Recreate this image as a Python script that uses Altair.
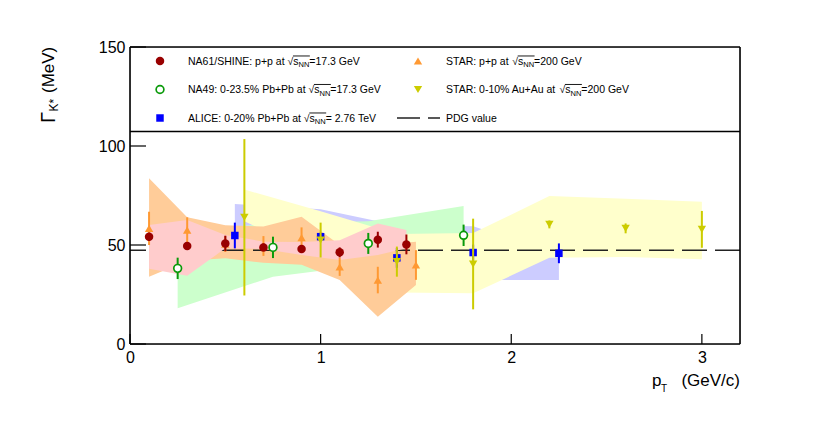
import altair as alt
import pandas as pd

# ---------------- data ----------------
# NA61/SHINE p+p 17.3 GeV
na61_x = [0.1, 0.3, 0.5, 0.7, 0.9, 1.1, 1.3, 1.45]
na61_y = [54.2, 49.5, 50.8, 48.8, 48.0, 46.3, 52.7, 50.3]
na61_err = [2.0, 2.0, 3.9, 2.0, 2.0, 2.5, 4.0, 5.0]
na61_sys_hi = [60.1, 62.6, 55.0, 51.7, 51.5, 52.4, 60.9, 57.6]
na61_sys_lo = [38.0, 34.5, 48.3, 48.0, 45.0, 42.4, 45.0, 48.3]

# STAR p+p 200 GeV
starpp_x = [0.1, 0.3, 0.5, 0.7, 0.9, 1.1, 1.3, 1.5]
starpp_y = [58.4, 57.5, 50.5, 49.5, 53.7, 39.0, 32.3, 39.9]
starpp_err = [8.4, 6.5, 4.0, 5.0, 5.2, 4.6, 6.7, 7.5]
starpp_sys_hi = [83.7, 64.0, 60.0, 59.3, 64.3, 50.0, 50.0, 51.7]
starpp_sys_lo = [34.0, 42.0, 43.3, 41.0, 40.0, 32.3, 13.8, 29.8]

# NA49 0-23.5% Pb+Pb 17.3 GeV
na49_x = [0.25, 0.75, 1.25, 1.75]
na49_y = [38.2, 48.8, 50.8, 54.9]
na49_err = [5.4, 5.4, 5.3, 5.4]
na49_sys_hi = [57.0, 61.0, 62.0, 69.7]
na49_sys_lo = [18.0, 34.0, 40.0, 42.0]

# STAR 0-10% Au+Au 200 GeV
staraa_x = [0.6, 1.0, 1.4, 1.8, 2.2, 2.6, 3.0]
staraa_y = [64.0, 52.5, 41.6, 40.4, 60.4, 58.4, 57.9]
staraa_err = [39.5, 8.8, 7.6, 22.9, 2.0, 2.5, 9.3]
staraa_sys_hi = [78.0, 67.0, 55.5, 56.0, 74.7, 73.4, 71.9]
staraa_sys_lo = [62.0, 44.0, 26.0, 25.6, 43.5, 43.9, 42.8]

# ALICE 0-20% Pb+Pb 2.76 TeV
alice_x = [0.55, 1.0, 1.4, 1.8, 2.25]
alice_y = [54.8, 54.2, 43.5, 46.2, 45.8]
alice_err = [6.5, 2.0, 5.0, 4.0, 5.0]
alice_sys_hi = [70.7, 68.0, 60.0, 59.5, 45.0]
alice_sys_lo = [40.0, 38.0, 33.0, 32.3, 32.3]

pdg_value = [47.4]

x_ticks = [0, 1, 2, 3]
y_ticks = [0, 50, 100, 150]

# ---------------- layout / style ----------------
W, H = 610, 297
XMAX, YMAX = 3.2, 150
FONT = "Liberation Sans"

xs = alt.Scale(domain=[0, XMAX], nice=False, zero=False)
ys = alt.Scale(domain=[0, YMAX], nice=False, zero=False)
xaxis = alt.Axis(values=x_ticks, format="d", title=None, ticks=False, domain=False,
                 grid=False, labelFontSize=16, labelPadding=5, labelFont=FONT,
                 labelColor="black", labelFlush=False, labelOverlap=False)
yaxis = alt.Axis(values=y_ticks, format="d", title=None, ticks=False, domain=False,
                 grid=False, labelFontSize=16, labelPadding=5, labelFont=FONT,
                 labelColor="black", labelFlush=False, labelOverlap=False)


def X(f):
    return alt.X(f, type="quantitative", scale=xs, axis=xaxis)


def Y(f):
    return alt.Y(f, type="quantitative", scale=ys, axis=yaxis)


def px2x(p):
    return p * XMAX / W


def py2y(p):
    return YMAX - p * YMAX / H


series = {
    "na61": dict(x=na61_x, y=na61_y, e=na61_err, hi=na61_sys_hi, lo=na61_sys_lo,
                 color="#990000", band="#ffcccc", shape="circle", size=72, open=False),
    "starpp": dict(x=starpp_x, y=starpp_y, e=starpp_err, hi=starpp_sys_hi, lo=starpp_sys_lo,
                   color="#ff9933", band="#ffcc99", shape="triangle-up", size=70, open=False),
    "na49": dict(x=na49_x, y=na49_y, e=na49_err, hi=na49_sys_hi, lo=na49_sys_lo,
                 color="#0a9a0a", band="#ccffcc", shape="circle", size=60, open=True),
    "staraa": dict(x=staraa_x, y=staraa_y, e=staraa_err, hi=staraa_sys_hi, lo=staraa_sys_lo,
                   color="#cccc00", band="#ffffcc", shape="triangle-down", size=70, open=False),
    "alice": dict(x=alice_x, y=alice_y, e=alice_err, hi=alice_sys_hi, lo=alice_sys_lo,
                  color="#0000ff", band="#ccccff", shape="square", size=56, open=False),
}


def band(s):
    d = series[s]
    df = pd.DataFrame({"x": d["x"], "hi": d["hi"], "lo": d["lo"]})
    return alt.Chart(df).mark_area(color=d["band"], opacity=1, interpolate="linear").encode(
        x=X("x"), y=Y("hi"), y2="lo")


def marker_mark(s):
    d = series[s]
    if d["open"]:
        return dict(shape=d["shape"], size=d["size"], filled=True,
                    fill="white", stroke=d["color"], strokeWidth=1.7, opacity=1)
    return dict(shape=d["shape"], size=d["size"], filled=True,
                color=d["color"], opacity=1)


def points(s):
    d = series[s]
    df = pd.DataFrame({"x": d["x"], "y": d["y"],
                       "lo": [a - b for a, b in zip(d["y"], d["e"])],
                       "hi": [a + b for a, b in zip(d["y"], d["e"])]})
    bars = alt.Chart(df).mark_rule(color=d["color"], strokeWidth=2).encode(
        x=X("x"), y=Y("lo"), y2="hi")
    pts = alt.Chart(df).mark_point(**marker_mark(s)).encode(x=X("x"), y=Y("y"))
    return [bars, pts]


layers = []
for s in ["alice", "na49", "staraa", "starpp"]:
    layers.append(band(s))
pdg = alt.Chart(pd.DataFrame({"y": pdg_value})).mark_rule(
    color="#222222", strokeWidth=1.5, strokeDash=[25, 8]).encode(y=Y("y"))
layers.append(pdg)
layers.append(band("na61"))
for s in ["starpp", "na61", "alice", "staraa", "na49"]:
    layers += points(s)

# inward ticks
layers.append(alt.Chart(pd.DataFrame({"x": x_ticks})).mark_rule(color="black", strokeWidth=1.2).encode(
    x=X("x"), y=alt.value(H), y2=alt.value(H - 10)))
layers.append(alt.Chart(pd.DataFrame({"y": y_ticks})).mark_rule(color="black", strokeWidth=1.2).encode(
    y=Y("y"), x=alt.value(0), x2=alt.value(16)))

# frame
layers.append(alt.Chart(pd.DataFrame({"x": [0, XMAX]})).mark_rule(color="black", strokeWidth=1.6).encode(
    x=X("x")))
layers.append(alt.Chart(pd.DataFrame({"y": [0, YMAX]})).mark_rule(color="black", strokeWidth=1.6).encode(
    y=Y("y")))

# ---------------- legend (box inside the frame) ----------------
layers.append(alt.Chart(pd.DataFrame({"y": [py2y(84.5)]})).mark_rule(
    color="black", strokeWidth=1.3).encode(y=Y("y")))

AW = {c: 556 for c in "0123456789"}
AW.update({' ': 278, '%': 889, '+': 584, '-': 333, '.': 278, '/': 278, ':': 278, '=': 584,
           '(': 333, ')': 333, '\u221a': 549, '*': 389})
AW.update(dict(A=667, B=667, C=722, D=722, E=667, F=611, G=778, H=722, I=278, J=500, K=667,
               L=556, M=833, N=722, O=778, P=667, Q=778, R=722, S=667, T=611, U=722, V=667,
               W=944, X=667, Y=667, Z=611))
AW.update(dict(a=556, b=556, c=500, d=556, e=556, f=278, g=556, h=556, i=222, j=222, k=500,
               l=222, m=833, n=556, o=556, p=556, q=556, r=333, s=500, t=278, u=556, v=500,
               w=722, x=500, y=500, z=500))


def tw(s, fs):
    return sum(AW.get(c, 556) for c in s) * fs / 1000.0


legend_entries = [
    ("na61", "NA61/SHINE: p+p at ", "=17.3 GeV", 0, 0),
    ("starpp", "STAR: p+p at ", "=200 GeV", 1, 0),
    ("na49", "NA49: 0-23.5% Pb+Pb at ", "=17.3 GeV", 0, 1),
    ("staraa", "STAR: 0-10% Au+Au at ", "=200 GeV", 1, 1),
    ("alice", "ALICE: 0-20% Pb+Pb at ", "= 2.76 TeV", 0, 2),
]
col_marker = [30, 288]
col_text = [58, 316]
rows = [14, 42.5, 71]
FS, FSS = 10.5, 7.5

main_txt, sub_txt, overl = [], [], []
for key, pre, suf, c, r in legend_entries:
    yc = rows[r]
    base = yc + 3.8
    x0 = col_text[c]
    xq = x0 + tw(pre, FS)
    xs_ = xq + tw("\u221a", FS)
    xn = xs_ + tw("s", FS)
    xf = xn + tw("NN", FSS)
    main_txt += [(px2x(x0), py2y(base), pre), (px2x(xq), py2y(base), "\u221a"),
                 (px2x(xs_), py2y(base), "s"), (px2x(xf), py2y(base), suf)]
    sub_txt.append((px2x(xn), py2y(base + 2.6), "NN"))
    overl.append((px2x(xs_ - 0.3), px2x(xf + 0.5), py2y(base - 0.84 * FS)))
    mdf = pd.DataFrame({"x": [px2x(col_marker[c])], "y": [py2y(yc)]})
    layers.append(alt.Chart(mdf).mark_point(**marker_mark(key)).encode(x=X("x"), y=Y("y")))

main_txt.append((px2x(col_text[1]), py2y(rows[2] + 3.8), "PDG value"))
mt = pd.DataFrame(main_txt, columns=["x", "y", "t"])
st = pd.DataFrame(sub_txt, columns=["x", "y", "t"])
ol = pd.DataFrame(overl, columns=["x1", "x2", "y"])
layers.append(alt.Chart(mt).mark_text(align="left", baseline="alphabetic", fontSize=FS,
                                      font=FONT, color="black").encode(x=X("x"), y=Y("y"), text="t:N"))
layers.append(alt.Chart(st).mark_text(align="left", baseline="alphabetic", fontSize=FSS,
                                      font=FONT, color="black").encode(x=X("x"), y=Y("y"), text="t:N"))
layers.append(alt.Chart(ol).mark_rule(color="black", strokeWidth=0.9).encode(
    x=X("x1"), x2="x2", y=Y("y")))
pdg_leg = pd.DataFrame({"x1": [px2x(267)], "x2": [px2x(310)], "y": [py2y(rows[2])]})
layers.append(alt.Chart(pdg_leg).mark_rule(color="#222222", strokeWidth=1.5, strokeDash=[23, 8]).encode(
    x=X("x1"), x2="x2", y=Y("y")))


# ---------------- axis titles ----------------
def label(text, x, y, fs, align="left", angle=0):
    kw = dict(align=align, baseline="alphabetic", fontSize=fs, font=FONT, color="black")
    if angle:
        kw["angle"] = angle
    return alt.Chart(pd.DataFrame({"t": [text]})).mark_text(**kw).encode(
        text="t:N", x=alt.value(x), y=alt.value(y))


layers += [
    label("p", 522, 339, 17),
    label("T", 531, 345, 10),
    label("(GeV/c)", 610, 339, 17, align="right"),
    label("\u0393", -75, 76, 20, angle=270),
    label("K*", -72, 64.5, 12, angle=270),
    label("(MeV)", -76, 46, 17, angle=270),
]

chart = alt.layer(*layers).properties(
    width=W, height=H,
    autosize=alt.AutoSizeParams(type="none"),
    padding={"left": 122, "top": 39, "right": 80, "bottom": 70},
).configure_view(stroke=None).configure(background="white")

chart.save("out.html", embed_options={"renderer": "svg", "actions": False})
